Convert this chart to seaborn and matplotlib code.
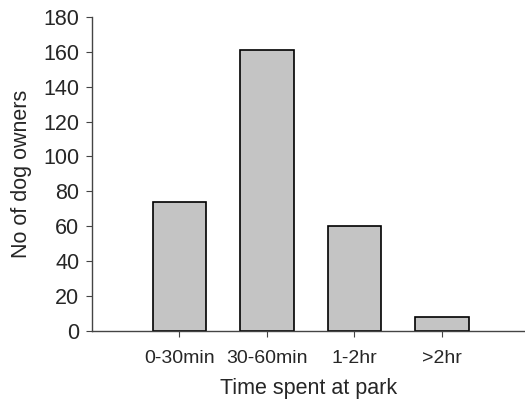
import matplotlib
matplotlib.use("Agg")
import matplotlib.pyplot as plt
import seaborn as sns
import pandas as pd

# time categories and counts
categories = ["0-30min", "30-60min", "1-2hr", ">2hr"]
owners = [74, 161, 60, 8]
y_ticks = [0, 20, 40, 60, 80, 100, 120, 140, 160, 180]

sns.set_style("white")
plt.rcParams["font.family"] = ["Liberation Sans", "DejaVu Sans"]

df = pd.DataFrame({"time": categories, "owners": owners})

fig = plt.figure(figsize=(5.25, 4.03), dpi=100)
ax = fig.add_axes([0.175, 0.179, 0.825, 0.779])

sns.barplot(data=df, x="time", y="owners", color="#c4c4c4", saturation=1,
            edgecolor="black", linewidth=1.2, width=0.61, ax=ax)

ax.set_xlim(-1.0, 3.95)
ax.set_ylim(0, 180)
ax.set_yticks(y_ticks)
ax.set_ylabel("No of dog owners", fontsize=15.5, labelpad=8)
ax.set_xlabel("Time spent at park", fontsize=15.5, labelpad=8)

for side in ["top", "right"]:
    ax.spines[side].set_visible(False)
for side in ["left", "bottom"]:
    ax.spines[side].set_color("#444444")
    ax.spines[side].set_linewidth(1.0)

ax.tick_params(axis="y", direction="out", length=4, width=0.8, color="#444444",
               labelsize=15.5, pad=5, left=True)
ax.tick_params(axis="x", direction="out", length=4, width=0.8, color="#444444",
               labelsize=14, pad=10, bottom=True)

fig.savefig("out.png", dpi=100)
